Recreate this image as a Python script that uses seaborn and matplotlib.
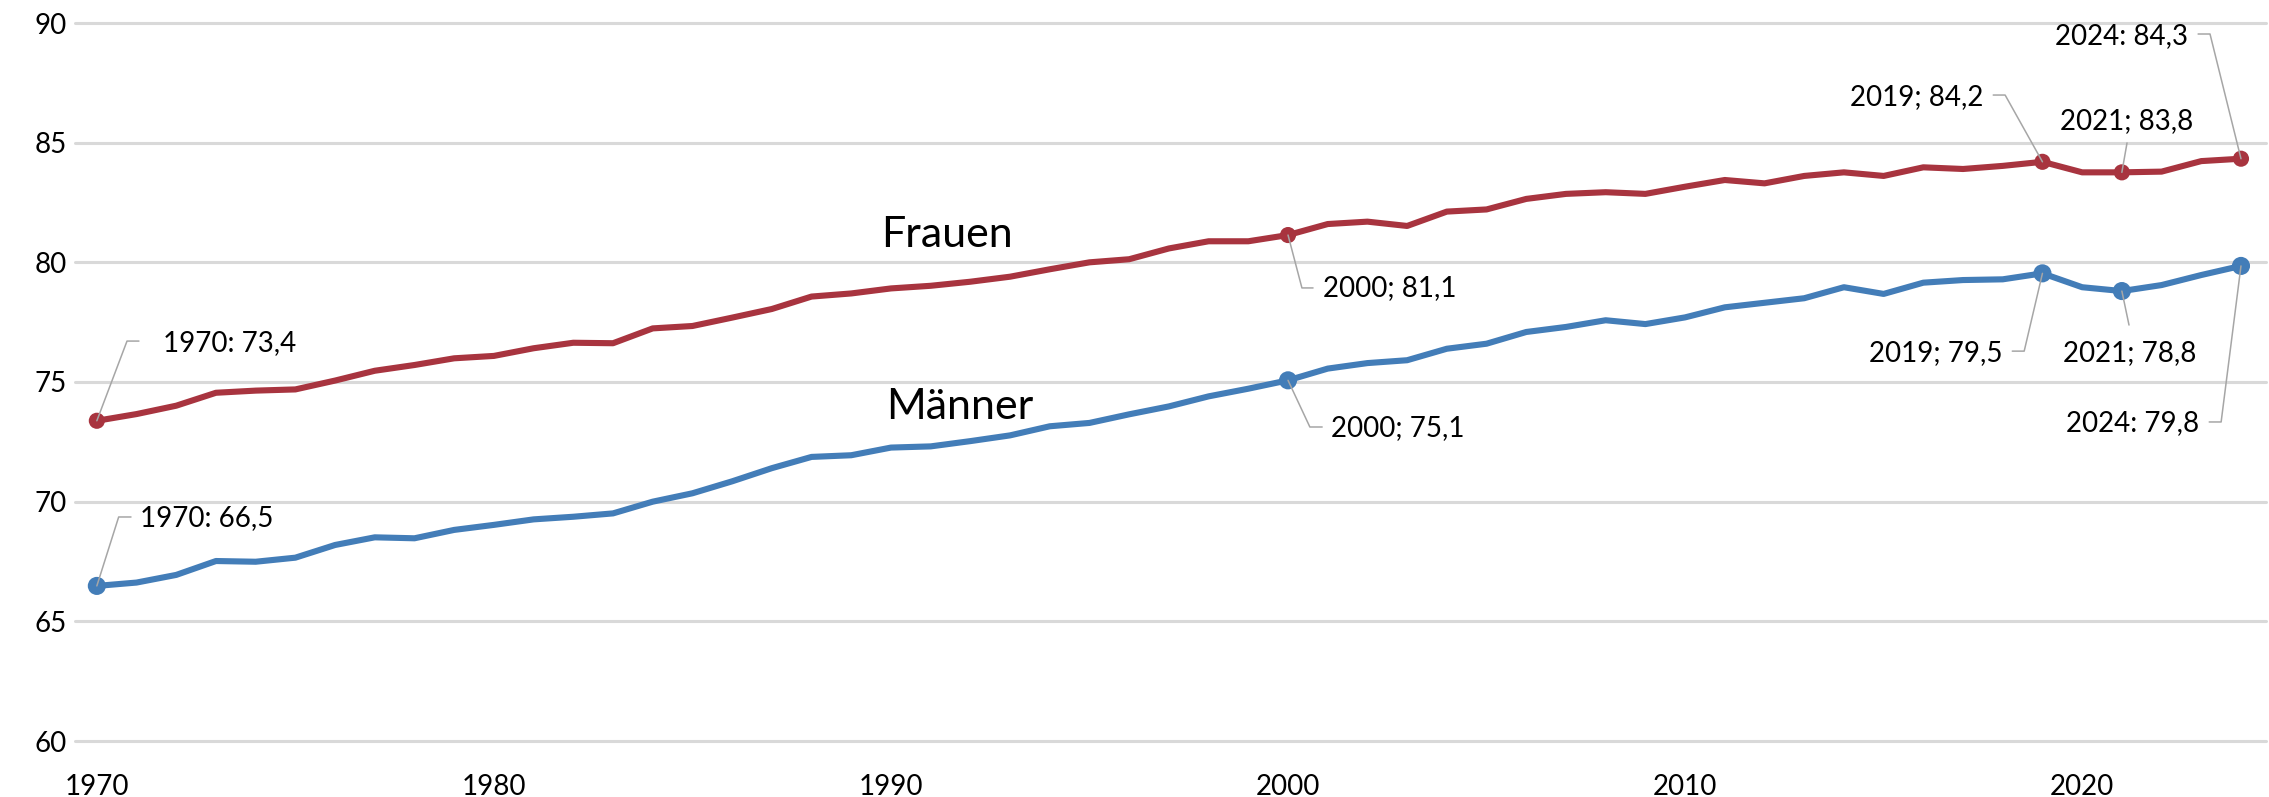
#!/usr/bin/env python
# encoding: utf-8
"""
Lebenserwartung bei Geburt, Frauen und Maenner, 1970-2024
"""

import matplotlib
matplotlib.use("Agg")
import matplotlib.pyplot as plt
import seaborn as sns
import pandas as pd

sns.set_style("white")
plt.rcParams['font.family'] = ['Lato', 'DejaVu Sans']
plt.rcParams['text.color'] = 'black'
plt.rcParams['xtick.color'] = 'black'
plt.rcParams['ytick.color'] = 'black'

years = list(range(1970, 2025))

frauen = [73.38, 73.66, 74.01, 74.55, 74.64, 74.69, 75.06, 75.47, 75.71, 75.99,
          76.09, 76.41, 76.64, 76.62, 77.24, 77.34, 77.69, 78.05, 78.57, 78.70,
          78.91, 79.02, 79.19, 79.40, 79.71, 80.00, 80.13, 80.58, 80.88, 80.88,
          81.14, 81.60, 81.70, 81.52, 82.12, 82.21, 82.65, 82.86, 82.93, 82.86,
          83.16, 83.44, 83.30, 83.61, 83.76, 83.61, 83.97, 83.90, 84.03, 84.20,
          83.76, 83.76, 83.79, 84.23, 84.33]

maenner = [66.48, 66.62, 66.94, 67.52, 67.49, 67.66, 68.19, 68.51, 68.47, 68.82,
           69.03, 69.26, 69.37, 69.51, 70.00, 70.35, 70.85, 71.40, 71.87, 71.94,
           72.26, 72.31, 72.53, 72.77, 73.15, 73.29, 73.65, 73.98, 74.40, 74.72,
           75.07, 75.56, 75.79, 75.91, 76.39, 76.60, 77.09, 77.30, 77.58, 77.42,
           77.70, 78.12, 78.31, 78.50, 78.96, 78.68, 79.15, 79.26, 79.29, 79.54,
           78.96, 78.80, 79.05, 79.47, 79.85]

marked_years = [1970, 2000, 2019, 2021, 2024]
x_ticks = [1970, 1980, 1990, 2000, 2010, 2020]
y_ticks = [60, 65, 70, 75, 80, 85, 90]

RED = "#A8343F"
BLUE = "#437DB8"
LEADER = "#A6A6A6"

# label text, series, year, text pos, leader points (data coords), alignment
labels = [
    ("1970: 73,4", "Frauen", 1970, (1971.66, 76.63), [(1970.76, 76.71), (1971.06, 76.71)], "left"),
    ("1970: 66,5", "Männer", 1970, (1971.08, 69.31), [(1970.55, 69.36), (1970.86, 69.36)], "left"),
    ("2000; 81,1", "Frauen", 2000, (2000.88, 78.93), [(2000.35, 78.93), (2000.63, 78.93)], "left"),
    ("2000; 75,1", "Männer", 2000, (2001.08, 73.08), [(2000.55, 73.12), (2000.86, 73.12)], "left"),
    ("2019; 84,2", "Frauen", 2019, (2017.51, 86.91), [(2018.06, 86.99), (2017.76, 86.99)], "right"),
    ("2021; 83,8", "Frauen", 2021, (2021.12, 85.90), [(2021.13, 84.99)], "center"),
    ("2024: 84,3", "Frauen", 2024, (2022.67, 89.46), [(2023.22, 89.54), (2022.92, 89.54)], "right"),
    ("2019; 79,5", "Männer", 2019, (2017.99, 76.21), [(2018.54, 76.29), (2018.24, 76.29)], "right"),
    ("2021; 78,8", "Männer", 2021, (2021.19, 76.21), [(2021.18, 77.38)], "center"),
    ("2024: 79,8", "Männer", 2024, (2022.95, 73.28), [(2023.50, 73.33), (2023.20, 73.33)], "right"),
]

df = pd.DataFrame({
    "Jahr": years * 2,
    "Wert": frauen + maenner,
    "Geschlecht": ["Frauen"] * len(years) + ["Männer"] * len(years),
})
marks = df[df["Jahr"].isin(marked_years)]
palette = {"Frauen": RED, "Männer": BLUE}

fig = plt.figure(figsize=(22.69, 7.97), dpi=100)
ax = fig.add_axes([75 / 2269, 1 - 741 / 797, (2266 - 75) / 2269, (741 - 23) / 797])

sns.lineplot(data=df, x="Jahr", y="Wert", hue="Geschlecht", palette=palette,
             linewidth=4.4, legend=False, ax=ax, zorder=3)
sns.scatterplot(data=marks, x="Jahr", y="Wert", hue="Geschlecht", palette=palette,
                size="Geschlecht", sizes={"Frauen": 135, "Männer": 170},
                linewidth=0, legend=False, ax=ax, zorder=4)

# leader lines + labels
for text, series, year, (tx, ty), pts, ha in labels:
    vals = frauen if series == "Frauen" else maenner
    val = vals[years.index(year)]
    xs = [year] + [p[0] for p in pts]
    ys = [val] + [p[1] for p in pts]
    ax.plot(xs, ys, color=LEADER, lw=1.1, zorder=5)
    ax.text(tx, ty, text, ha=ha, va="center", fontsize=20, zorder=6)

ax.text(1991.42, 81.14, "Frauen", ha="center", va="center", fontsize=31)
ax.text(1991.74, 73.95, "Männer", ha="center", va="center", fontsize=31)

ax.set_xlim(1969.45, 2024.63)
ax.set_ylim(60, 90)
ax.set_xticks(x_ticks)
ax.set_yticks(y_ticks)
ax.set_xlabel("")
ax.set_ylabel("")
ax.tick_params(axis="both", length=0, labelsize=20)
ax.tick_params(axis="y", pad=6)
ax.tick_params(axis="x", pad=24)
ax.yaxis.grid(True, color="#D9D9D9", lw=2.2)
ax.xaxis.grid(False)
for gl in ax.get_ygridlines():
    gl.set_clip_on(False)
ax.set_axisbelow(True)
sns.despine(ax=ax, left=True, bottom=True)

fig.savefig("out.png", dpi=100)
